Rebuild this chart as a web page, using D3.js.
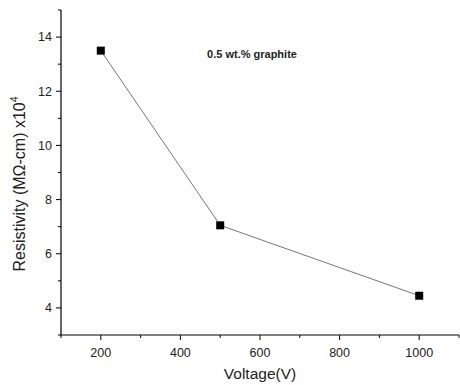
<!DOCTYPE html>
<html><head><meta charset="utf-8">
<script src="https://cdn.jsdelivr.net/npm/d3@7"></script>
<style>body{margin:0;background:#fff}svg{display:block}text{font-family:"Liberation Sans",Arial,sans-serif}</style>
</head><body>
<svg id="c" width="460" height="385"></svg>
<script>
const voltages = [200, 500, 1000];
const resistivity = [13.5, 7.05, 4.45];
const xTicks = [200, 400, 600, 800, 1000];
const yTicks = [4, 6, 8, 10, 12, 14];
const xMinor = [100, 300, 500, 700, 900, 1100];
const yMinor = [3, 5, 7, 9, 11, 13, 15];

const svg = d3.select("#c");
const x = d3.scaleLinear().domain([100, 1100]).range([61, 459]);
const y = d3.scaleLinear().domain([3, 15]).range([335, 10]);

const gx = svg.append("g").attr("transform", "translate(0,335)");
gx.append("line").attr("x1", 61).attr("x2", 459).attr("stroke", "#000").attr("stroke-width", 1.2);
gx.selectAll(".mj").data(xTicks).join("line").attr("x1", d => x(d)).attr("x2", d => x(d)).attr("y1", 0).attr("y2", 5).attr("stroke", "#000");
gx.selectAll(".mn").data(xMinor).join("line").attr("class","mn").attr("x1", d => x(d)).attr("x2", d => x(d)).attr("y1", 0).attr("y2", 3).attr("stroke", "#000");
gx.selectAll("text").data(xTicks).join("text").attr("x", d => x(d)).attr("y", 22).attr("text-anchor", "middle").attr("font-size", 12.5).attr("fill", "#222").text(d => d);

const gy = svg.append("g").attr("transform", "translate(61,0)");
gy.append("line").attr("y1", 10).attr("y2", 335).attr("stroke", "#000").attr("stroke-width", 1.2);
gy.selectAll(".mj").data(yTicks).join("line").attr("y1", d => y(d)).attr("y2", d => y(d)).attr("x1", 0).attr("x2", -5).attr("stroke", "#000");
gy.selectAll(".mn").data(yMinor).join("line").attr("class","mn").attr("y1", d => y(d)).attr("y2", d => y(d)).attr("x1", 0).attr("x2", -3).attr("stroke", "#000");
gy.selectAll("text").data(yTicks).join("text").attr("x", -9).attr("y", d => y(d)).attr("dy", "0.35em").attr("text-anchor", "end").attr("font-size", 12.5).attr("fill", "#222").text(d => d);

svg.append("text").attr("x", x(600)).attr("y", 379).attr("text-anchor", "middle").attr("font-size", 15.5).attr("fill", "#222").text("Voltage(V)");

const yl = svg.append("text").attr("transform", `translate(25,184) rotate(-90)`).attr("text-anchor", "middle").attr("font-size", 16).attr("fill", "#222");
yl.append("tspan").text("Resistivity (MΩ-cm) x10");
yl.append("tspan").attr("dy", -7).attr("font-size", 10.5).text("4");

const pts = voltages.map((v, i) => [v, resistivity[i]]);
svg.append("path").datum(pts).attr("d", d3.line().x(d => x(d[0])).y(d => y(d[1]))).attr("fill", "none").attr("stroke", "#666").attr("stroke-width", 0.9);
svg.selectAll(".pt").data(pts).join("rect").attr("x", d => x(d[0]) - 4).attr("y", d => y(d[1]) - 4).attr("width", 8).attr("height", 8).attr("fill", "#000");

svg.append("text").attr("x", 252).attr("y", 58).attr("text-anchor", "middle").attr("font-size", 11).attr("font-weight", "bold").attr("fill", "#222").text("0.5 wt.% graphite");
</script>
</body></html>
